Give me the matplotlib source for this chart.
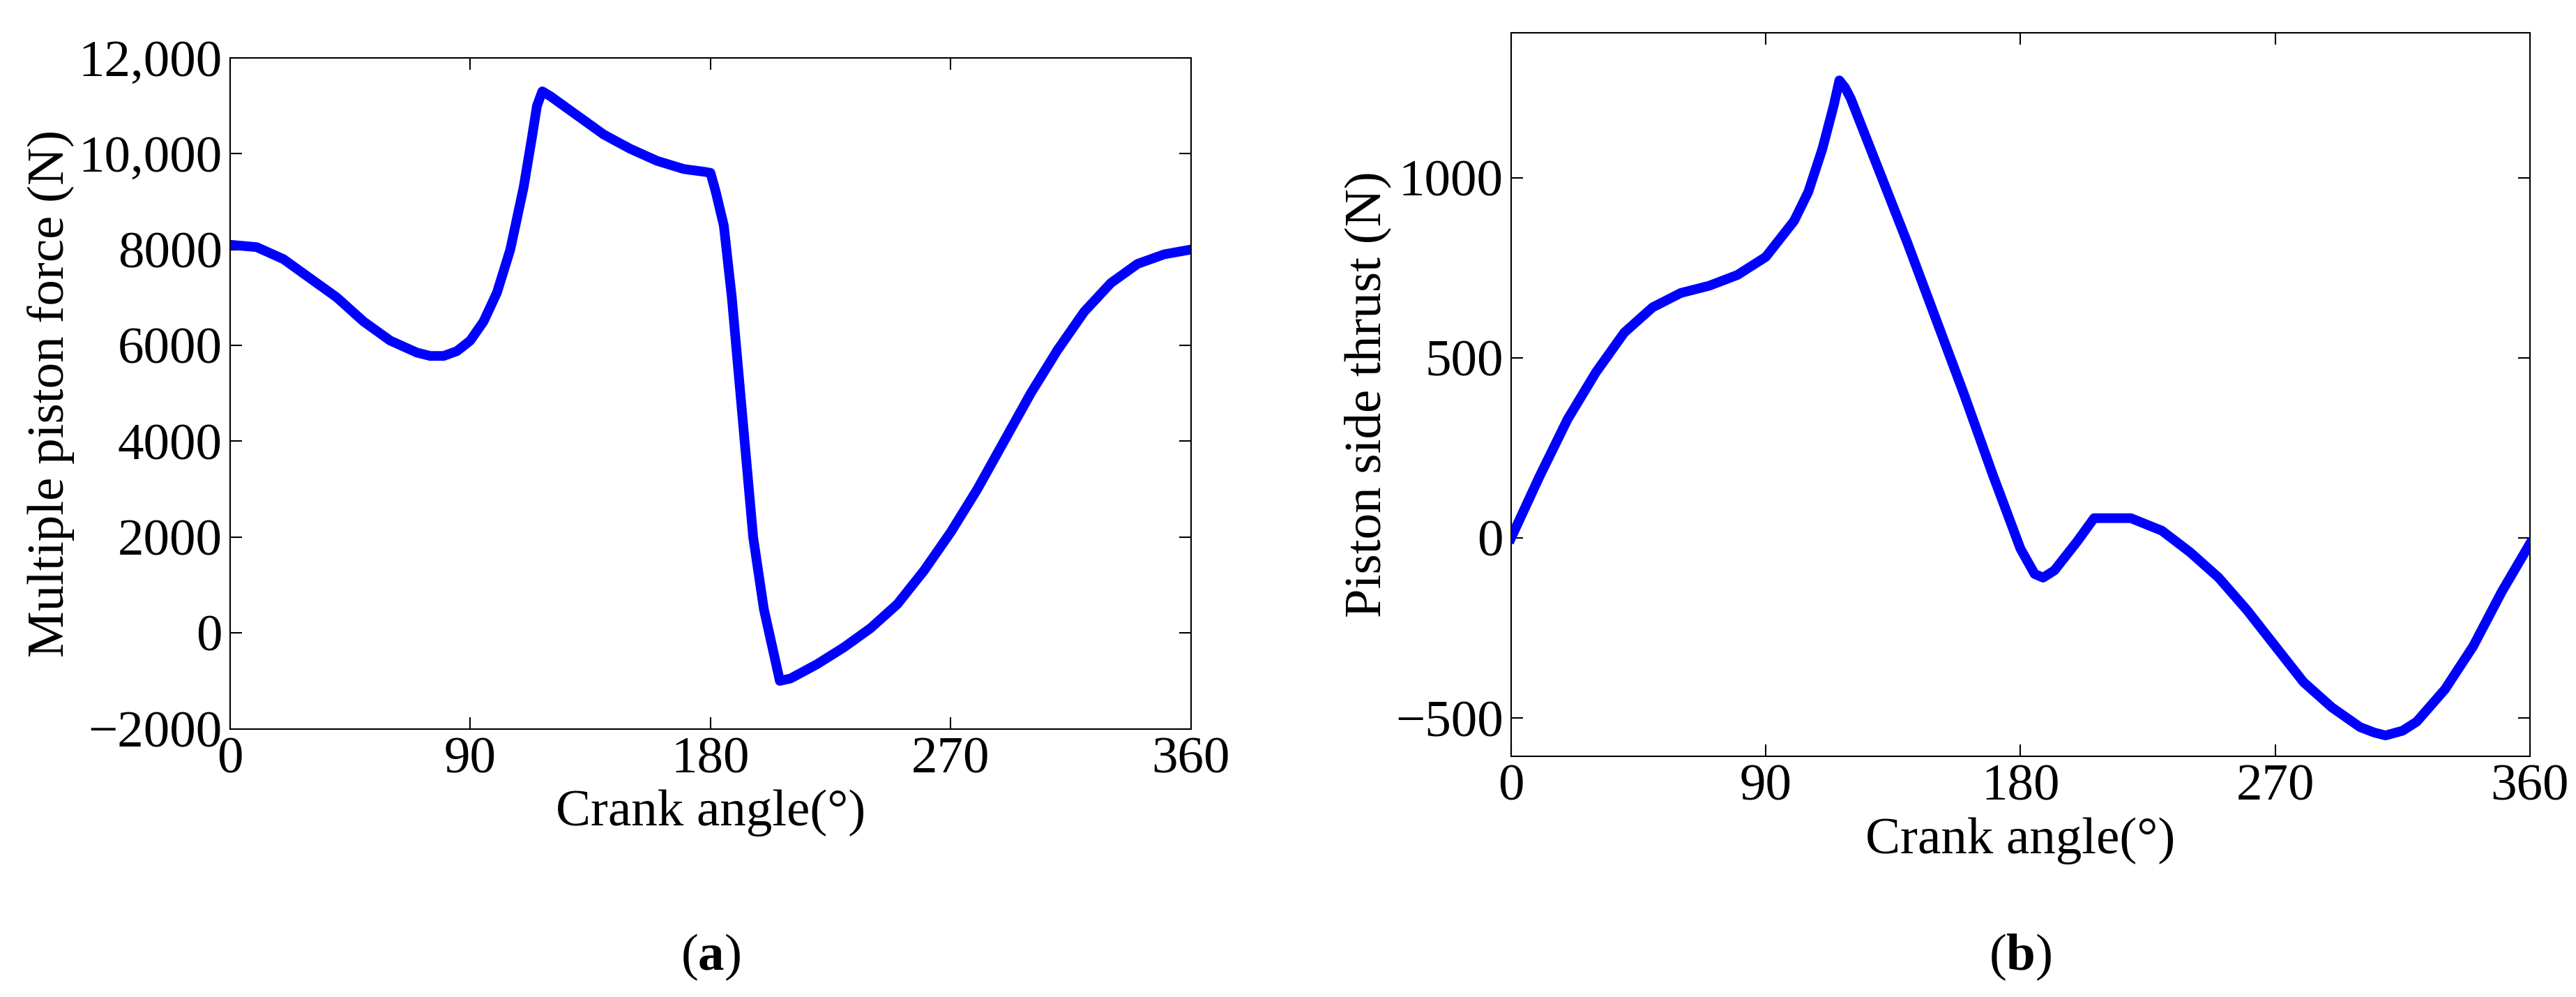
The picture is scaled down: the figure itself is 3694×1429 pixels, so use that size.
import matplotlib
matplotlib.use("Agg")
import matplotlib.pyplot as plt
import numpy as np

plt.rcParams['font.family'] = 'serif'
plt.rcParams['font.serif'] = ['Liberation Serif', 'Times New Roman', 'DejaVu Serif']
plt.rcParams['mathtext.fontset'] = 'custom'
plt.rcParams['mathtext.rm'] = 'Liberation Serif'
plt.rcParams['mathtext.bf'] = 'Liberation Serif:bold'

xa = [0,10,20,30,40,50,60,70,75,80,85,90,95,100,105,110,113,115,117,120,130,140,150,160,170,178,180,182,185,188,192,196,200,204,206,210,220,230,240,250,260,270,280,290,300,310,320,330,340,350,355,360]
ya = [8100,8050,7800,7400,7000,6500,6100,5850,5780,5780,5880,6100,6500,7100,8000,9300,10300,11000,11300,11200,10800,10400,10100,9850,9680,9620,9600,9200,8500,7000,4500,2000,500,-500,-1000,-950,-650,-300,100,600,1300,2100,3000,4000,5000,5900,6700,7300,7700,7900,7950,8000]

xb = [0,10,20,30,40,50,60,70,80,90,100,105,110,114,116,118,120,130,140,150,160,170,180,185,188,192,200,206,219,230,240,250,260,270,280,290,300,305,309,315,320,330,340,350,360]
yb = [0,170,330,460,570,640,680,700,730,780,880,960,1080,1200,1270,1250,1220,1020,820,610,400,180,-30,-100,-110,-90,-10,55,55,20,-40,-110,-200,-300,-400,-470,-525,-540,-548,-535,-510,-420,-300,-150,-16]

xticks = [0,90,180,270,360]
fs = 54

fig = plt.figure(figsize=(36.94,14.29), dpi=100)
ax1 = fig.add_axes([0.0893,0.269,0.373,0.673])
ax2 = fig.add_axes([0.5866,0.2414,0.3955,0.7257])

ax1.plot(xa, ya, color='#0000ff', lw=10)
ax1.set_xlim(0,360); ax1.set_ylim(-2000,12000)
ax1.set_yticks([-2000,0,2000,4000,6000,8000,10000,12000])
ax1.set_yticklabels(['\u22122000','0','2000','4000','6000','8000','10,000','12,000'])
ax1.set_ylabel('Multiple piston force (N)', fontsize=fs)

ax2.plot(xb, yb, color='#0000ff', lw=10)
ax2.set_xlim(0,360); ax2.set_ylim(-606,1402)
ax2.set_yticks([-500,0,500,1000])
ax2.set_yticklabels(['\u2212500','0','500','1000'])
ax2.set_ylabel('Piston side thrust (N)', fontsize=fs)

for ax in (ax1, ax2):
    ax.set_xticks(xticks)
    ax.set_xlabel('Crank angle(°)', fontsize=fs, labelpad=6)
    ax.tick_params(direction='in', top=True, right=True, labelsize=fs, length=12, width=1.5, pad=8)
    for s in ax.spines.values():
        s.set_linewidth(1.5)

fig.text(0.2759, 0.04, r'($\mathbf{a}$)', fontsize=fs, ha='center', va='center')
fig.text(0.7843, 0.04, r'($\mathbf{b}$)', fontsize=fs, ha='center', va='center')

fig.savefig('out.png', dpi=100)
